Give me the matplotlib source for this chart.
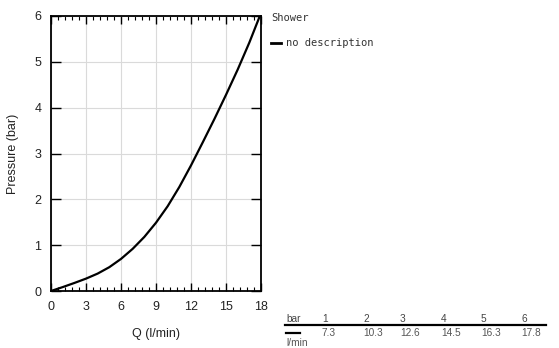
import matplotlib
matplotlib.use("Agg")
import matplotlib.pyplot as plt
from matplotlib.ticker import MultipleLocator
from matplotlib.lines import Line2D

# Curve
q_curve = [0, 1, 2, 3, 4, 5, 6, 7, 8, 9, 10, 11, 12, 13, 14, 15, 16, 17, 17.9]
p_curve = [0, 0.085, 0.175, 0.27, 0.38, 0.52, 0.70, 0.92, 1.18, 1.49, 1.85, 2.27,
           2.74, 3.24, 3.75, 4.28, 4.83, 5.42, 6.0]

# Table values
table_bar = [1, 2, 3, 4, 5, 6]
table_flow = [7.3, 10.3, 12.6, 14.5, 16.3, 17.8]

x_ticks = [0, 3, 6, 9, 12, 15, 18]
y_ticks = [0, 1, 2, 3, 4, 5, 6]

W, H = 559, 348
fig = plt.figure(figsize=(W / 100, H / 100), dpi=100)
ax = fig.add_axes([51 / W, 1 - 291 / H, 210 / W, 275 / H])

ax.plot(q_curve, p_curve, color="black", lw=1.6, solid_joinstyle="round")
ax.set_xlim(0, 18)
ax.set_ylim(0, 6)
ax.set_xticks(x_ticks)
ax.set_yticks(y_ticks)
ax.xaxis.set_minor_locator(MultipleLocator(0.6))
ax.grid(True, which="major", color="#dadada", lw=0.8)
ax.set_axisbelow(True)
for s in ax.spines.values():
    s.set_linewidth(1.3)
    s.set_color("black")

ax.tick_params(axis="x", which="major", direction="in", top=True, bottom=True,
               length=6, width=1, labelsize=9, pad=7, colors="black")
ax.tick_params(axis="x", which="minor", direction="in", top=True, bottom=True,
               length=3, width=0.8)
ax.tick_params(axis="y", which="major", direction="in", left=True, right=True,
               length=7, width=1, labelsize=9, pad=7)
for lab in ax.get_xticklabels() + ax.get_yticklabels():
    lab.set_fontfamily("Liberation Sans")
    lab.set_color("#222222")

ax.set_xlabel("Q (l/min)", fontsize=9, family="Liberation Sans", color="#222222", labelpad=11)
ax.set_ylabel("Pressure (bar)", fontsize=9, family="Liberation Sans", color="#222222", labelpad=11)

# Legend (monospace)
fig.text(271 / W, 1 - 18 / H, "Shower", family="DejaVu Sans Mono", fontsize=7.5,
         color="#333333", va="center", ha="left")
fig.add_artist(Line2D([271 / W, 281 / W], [1 - 43 / H, 1 - 43 / H], color="black", lw=2))
fig.text(286 / W, 1 - 43 / H, "no description", family="DejaVu Sans Mono", fontsize=7.5,
         color="#333333", va="center", ha="left")

# Table at bottom right
col_x = [322, 363, 400, 441, 481, 521]
fig.text(286 / W, 1 - 319 / H, "bar", family="Liberation Sans", fontsize=7.3,
         color="#444444", va="center", ha="left")
for cx, b in zip(col_x, table_bar):
    fig.text(cx / W, 1 - 319 / H, str(b), family="Liberation Sans", fontsize=7.3,
             color="#444444", va="center", ha="left")
fig.add_artist(Line2D([285 / W, 546 / W], [1 - 325 / H, 1 - 325 / H], color="black", lw=1.6))
fig.add_artist(Line2D([286 / W, 300 / W], [1 - 333 / H, 1 - 333 / H], color="black", lw=1.6))
for cx, f in zip(col_x, table_flow):
    fig.text(cx / W, 1 - 333 / H, f"{f:.1f}", family="Liberation Sans", fontsize=7.3,
             color="#555555", va="center", ha="left")
fig.text(286 / W, 1 - 343 / H, "l/min", family="Liberation Sans", fontsize=7.3,
         color="#555555", va="center", ha="left")

fig.savefig("out.png", dpi=100)
